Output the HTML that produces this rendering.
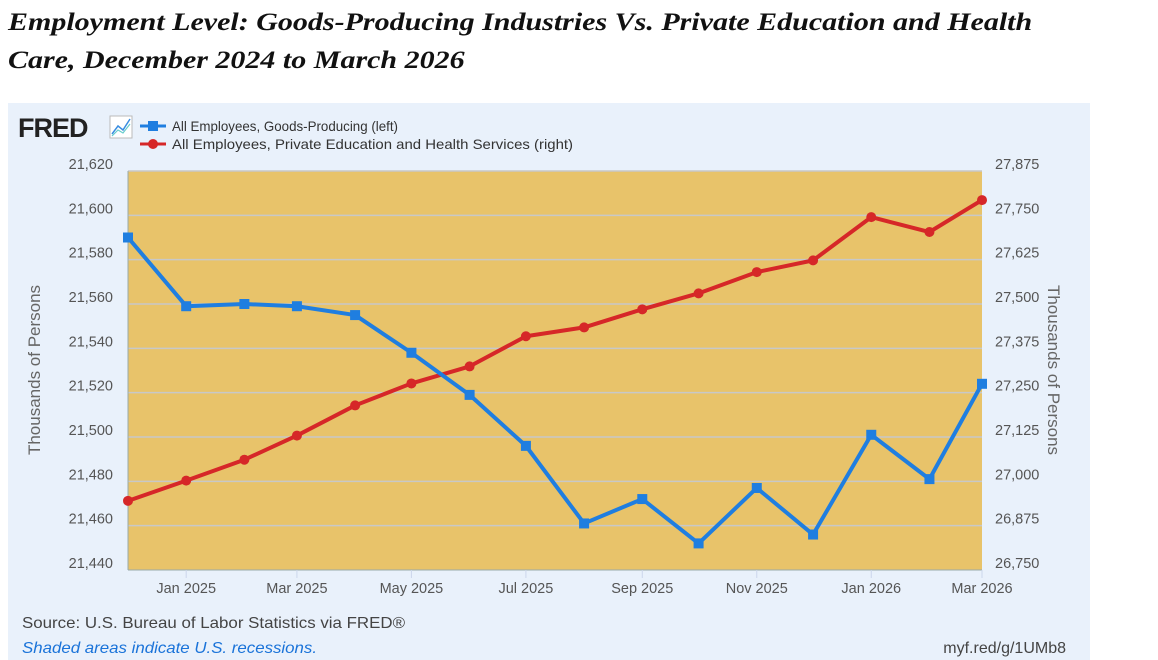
<!DOCTYPE html>
<html><head><meta charset="utf-8"><style>
body{margin:0;width:1158px;height:660px;background:#fff;overflow:hidden;position:relative;font-family:"Liberation Sans",sans-serif}
.title{position:absolute;left:8px;top:4px;font-family:"Liberation Serif",serif;font-weight:bold;font-style:italic;font-size:25px;line-height:38px;color:#111;transform:scaleX(1.2);transform-origin:left top;white-space:nowrap}
</style></head><body>
<div class="title">Employment Level: Goods-Producing Industries Vs. Private Education and Health<br>Care, December 2024 to March 2026</div>
<svg id="c" width="1158" height="660" style="position:absolute;left:0;top:0"></svg>
<script>
const dates=["2024-12-01","2025-01-01","2025-02-01","2025-03-01","2025-04-01","2025-05-01","2025-06-01","2025-07-01","2025-08-01","2025-09-01","2025-10-01","2025-11-01","2025-12-01","2026-01-01","2026-02-01","2026-03-01"];
const goods=[21590,21559,21560,21559,21555,21538,21519,21496,21461,21472,21452,21477,21456,21501,21481,21524];
const health=[26945,27002,27061,27129,27214,27276,27324,27409,27434,27485,27530,27590,27623,27745,27703,27793];
const leftTicks=[21440,21460,21480,21500,21520,21540,21560,21580,21600,21620];
const rightTicks=[26750,26875,27000,27125,27250,27375,27500,27625,27750,27875];
const xTickDates=["2025-01-01","2025-03-01","2025-05-01","2025-07-01","2025-09-01","2025-11-01","2026-01-01","2026-03-01"];
const xTickLabels=["Jan 2025","Mar 2025","May 2025","Jul 2025","Sep 2025","Nov 2025","Jan 2026","Mar 2026"];

const L=128,R=982,T=171,B=570;
const t0=Date.parse(dates[0]),t1=Date.parse(dates[dates.length-1]);
const xs=d=>L+(Date.parse(d)-t0)/(t1-t0)*(R-L);
const yl=v=>B-(v-21440)/180*(B-T);
const yr=v=>B-(v-26750)/1125*(B-T);
const svg=document.getElementById('c');
const NS='http://www.w3.org/2000/svg';
function mk(tag,attrs,parent){const e=document.createElementNS(NS,tag);for(const k in attrs)e.setAttribute(k,attrs[k]);(parent||svg).appendChild(e);return e;}
function txt(s,attrs){const e=mk('text',attrs);e.textContent=s;return e;}

let e=mk('rect',{x:8,y:103,width:1082,height:557,fill:'#e9f1fb'});


e=mk('rect',{x:L,y:T,width:R-L,height:B-T,fill:'#e8c36a'});


leftTicks.forEach((v,i)=>{
  const y=yl(v);
  if(i>0){const g=mk('line',{x1:L,x2:R,y1:y,y2:y,stroke:'#c8c8c8','stroke-width':1.5});
  
  }
  const t=txt(v.toLocaleString('en-US'),{x:113,y:y-2,'text-anchor':'end','font-size':14.5,fill:'#555'});
  
  
});
rightTicks.forEach(v=>{
  const t=txt(v.toLocaleString('en-US'),{x:995,y:yr(v)-2,'font-size':14.5,fill:'#555'});
  
  
});
mk('line',{x1:L,x2:L,y1:T,y2:B,stroke:'#9aa',"stroke-width":1});
mk('line',{x1:L,x2:R,y1:B,y2:B,stroke:'#9aa',"stroke-width":1});
xTickDates.forEach((d,i)=>{
  const x=xs(d);
  mk('line',{x1:x,x2:x,y1:B,y2:B+8,stroke:'#ccd6eb'});
  const t=txt(xTickLabels[i],{x:x,y:593,'text-anchor':'middle','font-size':14.5,fill:'#555'});
  
  
});
e=txt('Thousands of Persons',{x:0,y:0,transform:'translate(40,370) rotate(-90)','text-anchor':'middle','font-size':17,fill:'#666'});


e=txt('Thousands of Persons',{x:0,y:0,transform:'translate(1048,370) rotate(90)','text-anchor':'middle','font-size':17,fill:'#666'});



const pr=health.map((v,i)=>xs(dates[i])+','+yr(v)).join(' ');
e=mk('polyline',{points:pr,fill:'none',stroke:'#d62728','stroke-width':4,'stroke-linejoin':'round'});


health.forEach((v,i)=>{const c=mk('circle',{cx:xs(dates[i]),cy:yr(v),r:5,fill:'#d62728'});

});
const pg=goods.map((v,i)=>xs(dates[i])+','+yl(v)).join(' ');
e=mk('polyline',{points:pg,fill:'none',stroke:'#1f7ee0','stroke-width':4,'stroke-linejoin':'round'});


goods.forEach((v,i)=>{const c=mk('rect',{x:xs(dates[i])-5,y:yl(v)-5,width:10,height:10,fill:'#1f7ee0'});

});

e=txt('FRED',{x:18,y:137,'font-size':27,'font-weight':'bold',fill:'#222','letter-spacing':'-1'});


e=mk('rect',{x:110,y:116,width:22,height:22,fill:'#fff',stroke:'#bbb'});
mk('polyline',{points:'112,134 118,126 123,130 130,119',fill:'none',stroke:'#3a8de0','stroke-width':1.5});
mk('polyline',{points:'112,136 118,130 123,133 130,124',fill:'none',stroke:'#6cc','stroke-width':1.2});
mk('line',{x1:140,x2:166,y1:126,y2:126,stroke:'#1f7ee0','stroke-width':3});
mk('rect',{x:148,y:121,width:10,height:10,fill:'#1f7ee0'});
mk('line',{x1:140,x2:166,y1:144,y2:144,stroke:'#d62728','stroke-width':3});
mk('circle',{cx:153,cy:144,r:5,fill:'#d62728'});
e=txt('All Employees, Goods-Producing (left)',{x:172,y:131,'font-size':14,fill:'#333',textLength:226,lengthAdjust:'spacingAndGlyphs'});


e=txt('All Employees, Private Education and Health Services (right)',{x:172,y:149,'font-size':14,fill:'#333',textLength:401,lengthAdjust:'spacingAndGlyphs'});


e=txt('Source: U.S. Bureau of Labor Statistics via FRED®',{x:22,y:628,'font-size':16,fill:'#444',textLength:383,lengthAdjust:'spacingAndGlyphs'});


e=txt('Shaded areas indicate U.S. recessions.',{x:22,y:653,'font-size':16,'font-style':'italic',fill:'#1a73d9',textLength:295,lengthAdjust:'spacingAndGlyphs'});


e=txt('myf.red/g/1UMb8',{x:1066,y:653,'text-anchor':'end','font-size':16,fill:'#444'});


</script>
</body></html>
